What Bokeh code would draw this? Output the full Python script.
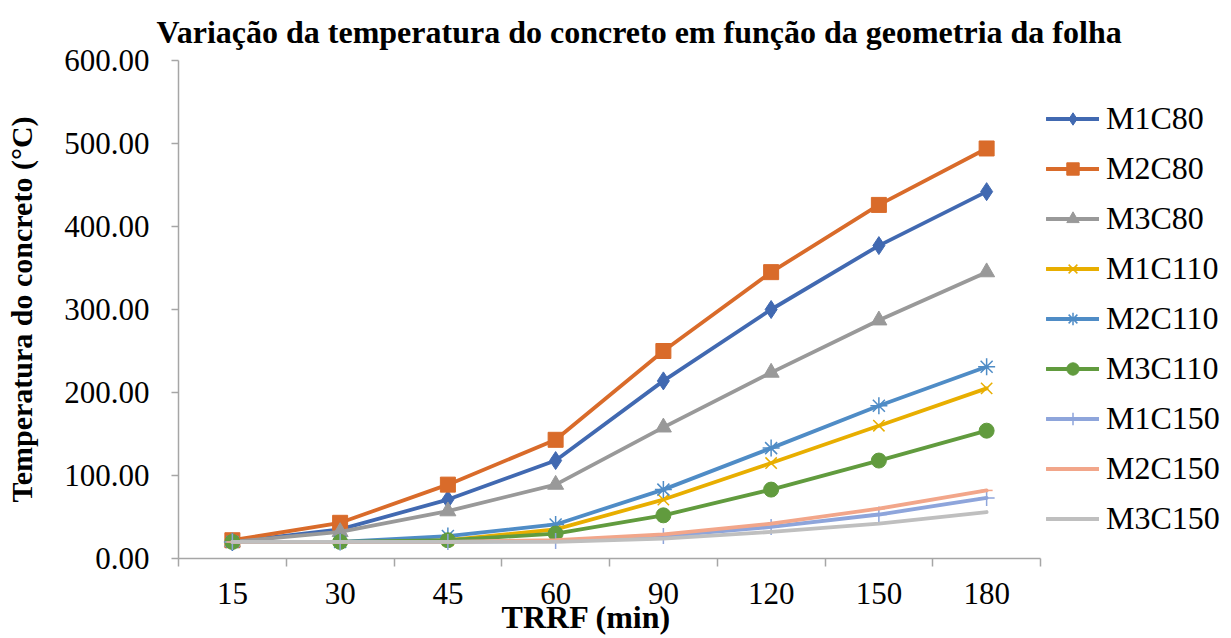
from bokeh.plotting import figure
from bokeh.models import (FixedTicker, Range1d, Legend, LegendItem,
                          NumeralTickFormatter, CustomJSTickFormatter)
from bokeh.embed import file_html
from bokeh.resources import INLINE

# ---- data ----
x_labels = ["15", "30", "45", "60", "90", "120", "150", "180"]
M1C80 = [20, 35, 71, 118, 214, 300, 377, 442]
M2C80 = [22, 43, 89, 143, 250, 345, 426, 494]
M3C80 = [20, 32, 57, 89, 158, 224, 287, 345]
M1C110 = [20, 20, 22, 35, 71, 115, 160, 205]
M2C110 = [20, 20, 27, 41, 83, 133, 184, 231]
M3C110 = [20, 20, 22, 30, 52, 83, 118, 154]
M1C150 = [20, 20, 20, 21, 27, 38, 53, 73]
M2C150 = [20, 20, 20, 22, 29, 42, 60, 82]
M3C150 = [20, 20, 20, 20, 24, 32, 42, 56]
y_ticks = [0, 100, 200, 300, 400, 500, 600]

series = [
    ("M1C80", M1C80, "#4169B1", "diamond", 18, 1),
    ("M2C80", M2C80, "#D96B2A", "square", 15, 1),
    ("M3C80", M3C80, "#999999", "triangle", 16, 1),
    ("M1C110", M1C110, "#E8AE00", "x", 16, 1.5),
    ("M2C110", M2C110, "#4F8CC6", "asterisk", 17, 1.5),
    ("M3C110", M3C110, "#619B3E", "circle", 15, 1),
    ("M1C150", M1C150, "#8EA5DB", "cross", 16, 1.5),
    ("M2C150", M2C150, "#F2A68A", "dash", 12, 1.5),
    ("M3C150", M3C150, "#BFBFBF", None, 0, 1),
]

FONT = "Liberation Serif"
N = len(x_labels)
xs = [i + 0.5 for i in range(N)]

# layout (pixels)
W, H = 1228, 638
L, R, T, B = 178, 1040, 60, 558   # axis area of the chart
MBR = 2
# frame spans to the right edge (legend lives there); axis is bounded to the categories
x_end = N * (W - MBR - L) / (R - L)

p = figure(width=W, height=H, output_backend="svg", toolbar_location=None,
           x_range=Range1d(0, x_end), y_range=Range1d(0, 600),
           min_border_left=L, min_border_right=MBR, min_border_top=T,
           min_border_bottom=H - B)

p.xgrid.visible = False
p.ygrid.visible = False
p.outline_line_color = None
p.background_fill_color = "white"
p.border_fill_color = "white"

p.title.text = "Variação da temperatura do concreto em função da geometria da folha"
p.title.text_font = FONT
p.title.text_font_size = "32px"
p.title.text_font_style = "bold"
p.title.align = "left"
p.title.offset = -22
p.title.standoff = 22
p.title.text_color = "black"

# y axis
ya = p.yaxis[0]
ya.ticker = FixedTicker(ticks=y_ticks, minor_ticks=[])
ya.formatter = NumeralTickFormatter(format="0.00")
ya.major_label_text_font = FONT
ya.major_label_text_font_size = "31px"
ya.major_label_text_color = "black"
ya.axis_line_color = "#A6A6A6"
ya.axis_line_width = 1.5
ya.major_tick_line_color = "#A6A6A6"
ya.major_tick_line_width = 1.5
ya.major_tick_out = 7
ya.major_tick_in = 0
ya.minor_tick_line_color = None
ya.major_label_standoff = 22
ya.axis_label = "Temperatura do concreto (°C)"
ya.axis_label_text_font = FONT
ya.axis_label_text_font_size = "30px"
ya.axis_label_text_font_style = "bold"
ya.axis_label_text_color = "black"
ya.axis_label_standoff = 23

# x axis
xa = p.xaxis[0]
xa.bounds = (0, N)
xa.ticker = FixedTicker(ticks=xs, minor_ticks=list(range(N + 1)))
xa.formatter = CustomJSTickFormatter(args=dict(labels=x_labels),
                                     code="return labels[Math.floor(tick)];")
xa.major_label_text_font = FONT
xa.major_label_text_font_size = "31px"
xa.major_label_text_color = "black"
xa.axis_line_color = "#A6A6A6"
xa.axis_line_width = 1.5
xa.major_tick_out = 0
xa.major_tick_in = 0
xa.major_tick_line_color = None
xa.minor_tick_line_color = "#A6A6A6"
xa.minor_tick_line_width = 1.5
xa.minor_tick_out = 8
xa.minor_tick_in = 0
xa.major_label_standoff = 16
# the label is centred on the whole frame; trailing no-break spaces move it
# back under the category axis, as in the original
xa.axis_label = "TRRF (min)" + "\u00a0" * 29
xa.axis_label_text_font = FONT
xa.axis_label_text_font_size = "32px"
xa.axis_label_text_font_style = "bold"
xa.axis_label_text_color = "black"
xa.axis_label_standoff = -8

items = []
for name, vals, color, marker, size, mlw in series:
    rs = [p.line(xs, vals, line_color=color, line_width=3.8,
                 line_cap="round", line_join="round")]
    if marker is not None:
        rs.append(p.scatter(xs, vals, marker=marker, size=size, fill_color=color,
                            line_color=color, line_width=mlw))
    items.append(LegendItem(label=name, renderers=rs))

legend = Legend(items=items, location=(R - L + 6, 21))
legend.label_text_font = FONT
legend.label_text_font_size = "32px"
legend.label_text_color = "black"
legend.glyph_width = 53
legend.glyph_height = 31
legend.label_height = 31
legend.spacing = 13
legend.padding = 5
legend.margin = 0
legend.label_standoff = 7
legend.border_line_color = None
legend.background_fill_alpha = 0
p.add_layout(legend, "center")

open("out.html", "w").write(file_html(p, INLINE))
